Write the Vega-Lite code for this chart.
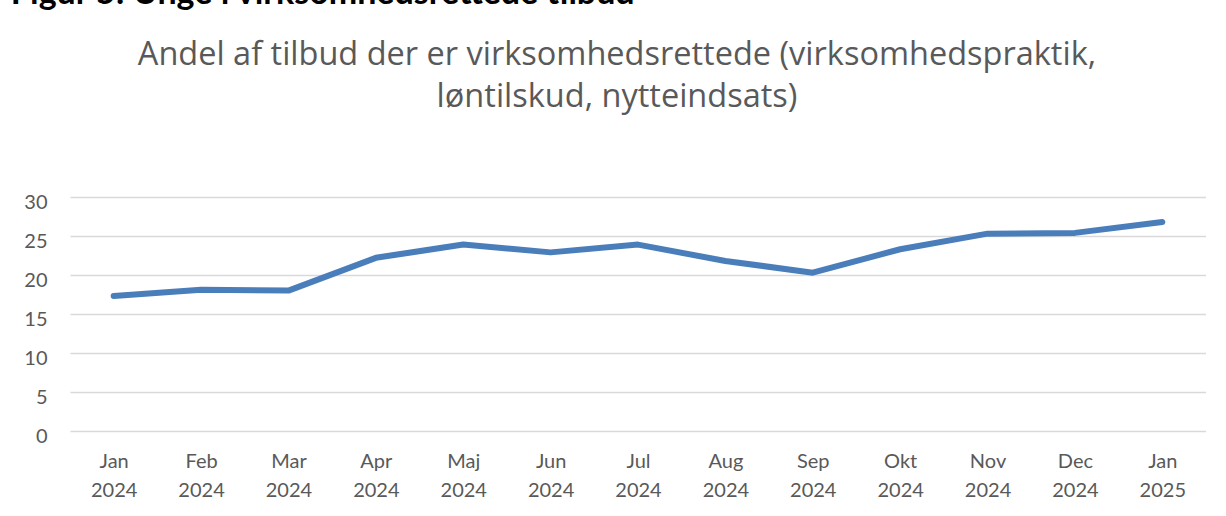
{
  "$schema": "https://vega.github.io/schema/vega-lite/v6.json",
  "padding": {"left": 10, "top": -24, "right": 0, "bottom": 0},
  "background": "white",
  "title": {
    "text": "Figur 5: Unge i virksomhedsrettede tilbud",
    "anchor": "start",
    "frame": "bounds",
    "font": "Lato",
    "fontSize": 34,
    "fontWeight": "bold",
    "color": "#000000",
    "dx": -13,
    "offset": 28
  },
  "config": {
    "view": {"stroke": null},
    "font": "Lato"
  },
  "vconcat": [
    {
      "width": 1136,
      "height": 234,
      "title": {
        "text": ["Andel af tilbud der er virksomhedsrettede (virksomhedspraktik,", "løntilskud, nytteindsats)"],
        "anchor": "middle",
        "font": "Open Sans",
        "fontSize": 32.5,
        "fontWeight": "normal",
        "color": "#595959",
        "lineHeight": 42,
        "dx": -21,
        "offset": 79
      },
      "data": {
        "values": [
          {"month": "Jan 2024", "value": 17.3},
          {"month": "Feb 2024", "value": 18.1},
          {"month": "Mar 2024", "value": 18.0},
          {"month": "Apr 2024", "value": 22.2},
          {"month": "Maj 2024", "value": 23.9},
          {"month": "Jun 2024", "value": 22.9},
          {"month": "Jul 2024", "value": 23.9},
          {"month": "Aug 2024", "value": 21.8},
          {"month": "Sep 2024", "value": 20.3},
          {"month": "Okt 2024", "value": 23.3},
          {"month": "Nov 2024", "value": 25.3},
          {"month": "Dec 2024", "value": 25.4},
          {"month": "Jan 2025", "value": 26.8}
        ]
      },
      "mark": {"type": "line", "color": "#4A7EBB", "strokeWidth": 6, "strokeCap": "round", "strokeJoin": "round"},
      "encoding": {
        "x": {
          "field": "month",
          "type": "nominal",
          "sort": null,
          "scale": {"paddingInner": 0, "paddingOuter": 0},
          "axis": {
            "title": null,
            "labelAngle": 0,
            "labelExpr": "split(datum.label, ' ')",
            "labelFont": "Lato",
            "labelFontSize": 20,
            "labelColor": "#595959",
            "labelLineHeight": 29,
            "labelPadding": 20,
            "labelBaseline": "top",
            "ticks": false,
            "domain": false,
            "grid": false
          }
        },
        "y": {
          "field": "value",
          "type": "quantitative",
          "scale": {"domain": [0, 30], "nice": false},
          "axis": {
            "title": null,
            "values": [0, 5, 10, 15, 20, 25, 30],
            "labelFont": "Lato",
            "labelFontSize": 20,
            "labelColor": "#595959",
            "labelPadding": 23,
            "labelOffset": 5,
            "ticks": false,
            "domain": false,
            "grid": true,
            "gridColor": "#d9d9d9",
            "gridWidth": 1.5
          }
        }
      }
    }
  ]
}
